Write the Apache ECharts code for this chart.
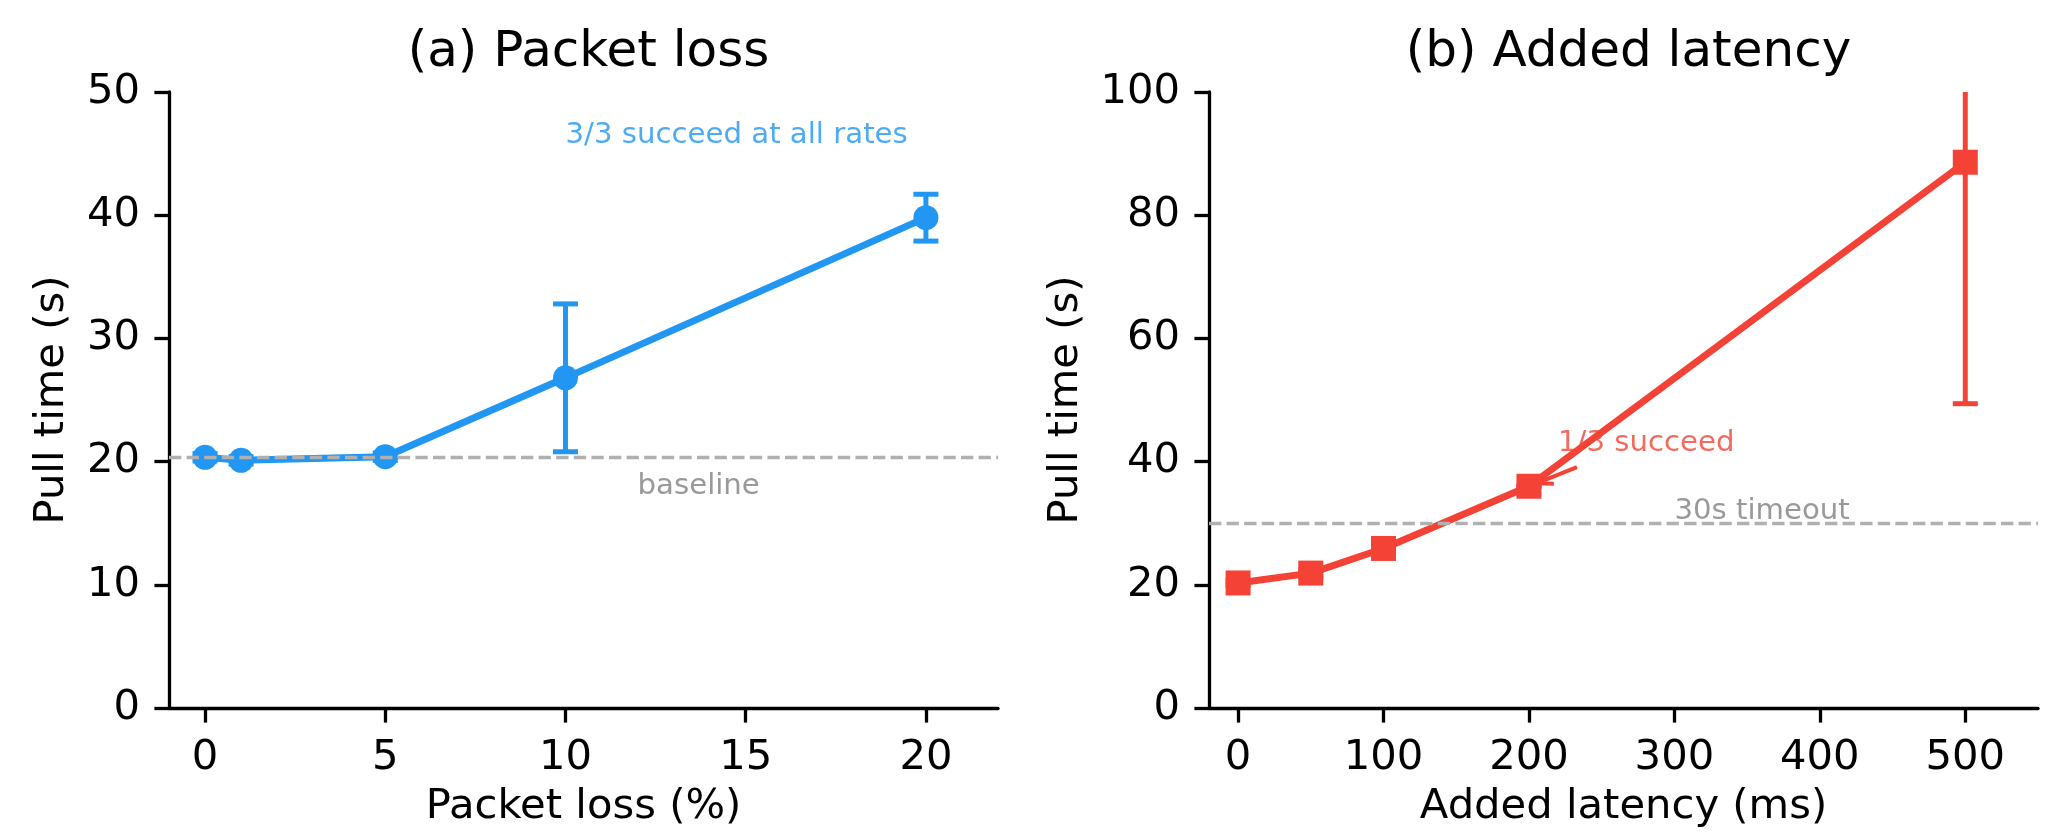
<!DOCTYPE html>
<html><head><meta charset="utf-8">
<script src="https://cdn.jsdelivr.net/npm/echarts@6/dist/echarts.min.js"></script>
<style>html,body{margin:0;padding:0;background:#fff}#c{width:2068px;height:835px}</style>
</head><body><div id="c"></div>
<script>
// ---- data: (a) packet loss ----
const lossX = [0, 1, 5, 10, 20];
const lossMean = [20.35, 20.1, 20.4, 26.8, 39.8];
const lossStd = [0.3, 0.3, 0.3, 6.0, 1.9];
const lossBaseline = 20.35;
const lossTicks = [0, 5, 10, 15, 20];
const lossNoteText = '3/3 succeed at all rates';
const lossNoteAt = [10, 46.5];
const lossBaseText = 'baseline';
const lossBaseAt = [12, 18.0];

// ---- data: (b) added latency ----
const latX = [0, 50, 100, 200, 500];
const latMean = [20.3, 21.9, 25.9, 36.0, 88.6];
const latStd = [0.4, 0.6, 0.8, 0, 39.2];
const latTimeout = 30;
const latTicks = [0, 100, 200, 300, 400, 500];
const latNoteText = '1/3 succeed';
const latNoteAt = [220, 43.0];
const latArrowFrom = [233, 39.1];
const latArrowTo = [200, 36];
const latTimeoutText = '30s timeout';
const latTimeoutAt = [300, 31.9];

const BLUE = '#2196F3', RED = '#F44336', GRAY_LINE = '#b0b0b0', GRAY_TEXT = '#808080';
const FF = 'DejaVu Sans';
const TICK = 41.7, SMALL = 29.2, TITLE = 50;

function errSeries(idx, xs, mean, std, color) {
  return {
    type: 'custom', xAxisIndex: idx, yAxisIndex: idx, silent: true, z: 2,
    data: xs.map((x, i) => [x, mean[i] - std[i], mean[i] + std[i]]),
    renderItem: (params, api) => {
      const cs = params.coordSys;
      const lo = api.coord([api.value(0), api.value(1)]);
      const hi = api.coord([api.value(0), api.value(2)]);
      const cw = 12.5;
      const st = { stroke: color, lineWidth: 5 };
      let hiY = hi[1], hiCap = true;
      if (hiY < cs.y) { hiY = cs.y; hiCap = false; }
      let loY = lo[1], loCap = true;
      if (loY > cs.y + cs.height) { loY = cs.y + cs.height; loCap = false; }
      const ch = [{ type: 'line', shape: { x1: lo[0], y1: loY, x2: hi[0], y2: hiY }, style: st }];
      if (loCap) ch.push({ type: 'line', shape: { x1: lo[0] - cw, y1: loY, x2: lo[0] + cw, y2: loY }, style: st });
      if (hiCap) ch.push({ type: 'line', shape: { x1: hi[0] - cw, y1: hiY, x2: hi[0] + cw, y2: hiY }, style: st });
      return { type: 'group', children: ch };
    }
  };
}

function refLine(idx, y) {
  return {
    type: 'line', xAxisIndex: idx, yAxisIndex: idx, data: [], z: 1, silent: true,
    markLine: {
      silent: true, symbol: ['none', 'none'], label: { show: false }, animation: false,
      lineStyle: { color: GRAY_LINE, width: 3.3, type: [12.3, 5.3] },
      data: [{ yAxis: y }]
    }
  };
}

function note(idx, at, text, color) {
  return {
    type: 'scatter', xAxisIndex: idx, yAxisIndex: idx, symbolSize: 0, silent: true, z: 6,
    data: [at],
    label: { show: true, position: 'right', distance: 0, formatter: text, color: color,
      fontSize: SMALL, fontFamily: FF, verticalAlign: 'middle' }
  };
}

function xAx(idx, min, max, ticks, name) {
  return {
    gridIndex: idx, type: 'value', min: min, max: max, splitLine: { show: false },
    axisLine: { onZero: false, lineStyle: { color: '#000', width: 3.3 } },
    axisTick: { customValues: ticks, length: 14.6, lineStyle: { color: '#000', width: 3.3 } },
    axisLabel: { customValues: ticks, margin: 29, fontSize: TICK, color: '#000', fontFamily: FF },
    name: name, nameLocation: 'middle', nameGap: 78,
    nameTextStyle: { fontSize: TICK, color: '#000', fontFamily: FF }
  };
}
function yAx(idx, max, interval, gap) {
  return {
    gridIndex: idx, type: 'value', min: 0, max: max, interval: interval, splitLine: { show: false },
    axisLine: { show: true, onZero: false, lineStyle: { color: '#000', width: 3.3 } },
    axisTick: { show: true, length: 14.6, lineStyle: { color: '#000', width: 3.3 } },
    axisLabel: { margin: 29, fontSize: TICK, color: '#000', fontFamily: FF },
    name: 'Pull time (s)', nameLocation: 'middle', nameGap: gap,
    nameTextStyle: { fontSize: TICK, color: '#000', fontFamily: FF }
  };
}

const chart = echarts.init(document.getElementById('c'), null, { renderer: 'canvas' });
chart.setOption({
  animation: false,
  backgroundColor: '#fff',
  textStyle: { fontFamily: FF },
  title: [
    { text: '(a) Packet loss', left: 583.5, top: 23, textAlign: 'center',
      textStyle: { fontSize: TITLE, fontWeight: 'normal', color: '#000', fontFamily: FF } },
    { text: '(b) Added latency', left: 1623.5, top: 23, textAlign: 'center',
      textStyle: { fontSize: TITLE, fontWeight: 'normal', color: '#000', fontFamily: FF } }
  ],
  grid: [
    { left: 169, top: 92, width: 829, height: 616, containLabel: false, outerBoundsMode: 'none' },
    { left: 1209, top: 92, width: 829, height: 616, containLabel: false, outerBoundsMode: 'none' }
  ],
  xAxis: [xAx(0, -1, 22, lossTicks, 'Packet loss (%)'), xAx(1, -20, 550, latTicks, 'Added latency (ms)')],
  yAxis: [yAx(0, 50, 10, 96), yAx(1, 100, 20, 122)],
  series: [
    refLine(0, lossBaseline),
    refLine(1, latTimeout),
    errSeries(0, lossX, lossMean, lossStd, BLUE),
    errSeries(1, latX, latMean, latStd, RED),
    { type: 'line', xAxisIndex: 0, yAxisIndex: 0, z: 3, silent: true,
      data: lossX.map((x, i) => [x, lossMean[i]]),
      symbol: 'circle', symbolSize: 25, showAllSymbol: true,
      lineStyle: { color: BLUE, width: 7 }, itemStyle: { color: BLUE } },
    { type: 'line', xAxisIndex: 1, yAxisIndex: 1, z: 3, silent: true,
      data: latX.map((x, i) => [x, latMean[i]]),
      symbol: 'rect', symbolSize: 25, showAllSymbol: true,
      lineStyle: { color: RED, width: 7 }, itemStyle: { color: RED } },
    note(0, lossNoteAt, lossNoteText, BLUE),
    note(0, lossBaseAt, lossBaseText, GRAY_TEXT),
    note(1, latNoteAt, latNoteText, RED),
    note(1, latTimeoutAt, latTimeoutText, GRAY_TEXT)
  ]
});

// arrow for "1/3 succeed" annotation
const a0 = chart.convertToPixel({ gridIndex: 1 }, latArrowFrom);
const t = chart.convertToPixel({ gridIndex: 1 }, latArrowTo);
const dx = a0[0] - t[0], dy = a0[1] - t[1];
const len = Math.hypot(dx, dy);
const ux = dx / len, uy = dy / len;
const tip = [t[0] + ux * 8, t[1] + uy * 8];
const hl = 16, hw = 7;
const base = [tip[0] + ux * hl, tip[1] + uy * hl];
const h1 = [base[0] - uy * hw, base[1] + ux * hw];
const h2 = [base[0] + uy * hw, base[1] - ux * hw];
const ast = { stroke: RED, lineWidth: 4, fill: null, lineCap: 'butt', lineJoin: 'miter' };
chart.setOption({
  graphic: [
    { type: 'line', z: 10, shape: { x1: a0[0], y1: a0[1], x2: tip[0], y2: tip[1] }, style: ast },
    { type: 'polyline', z: 10, shape: { points: [h1, tip, h2] }, style: ast }
  ]
});
</script>
</body></html>
